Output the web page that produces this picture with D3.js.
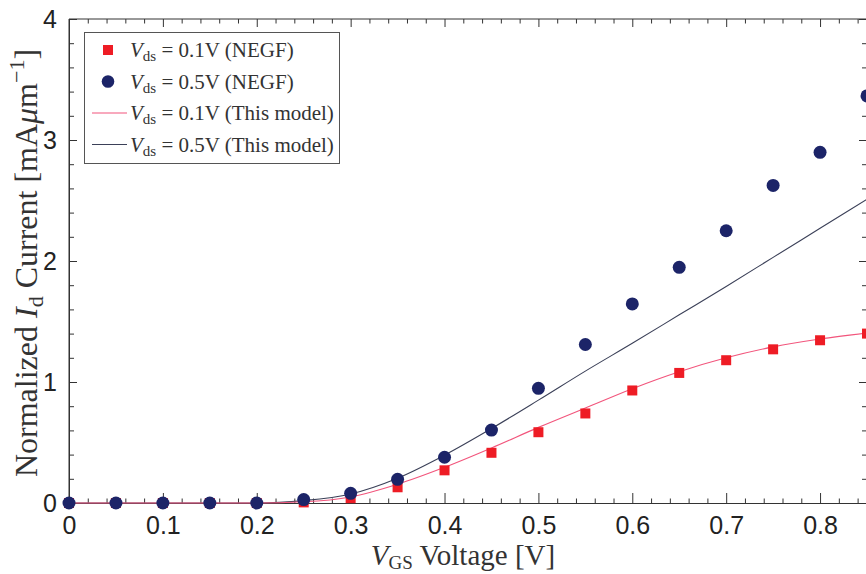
<!DOCTYPE html>
<html>
<head>
<meta charset="utf-8">
<script src="https://cdn.jsdelivr.net/npm/d3@7"></script>
<style>
  html, body { margin: 0; padding: 0; background: #fff; }
  svg { display: block; }
</style>
</head>
<body>
<svg id="chart" width="866" height="574"></svg>
<script>
// Gate voltage sweep (V)
const vgs = [0, 0.05, 0.1, 0.15, 0.2, 0.25, 0.3, 0.35, 0.4, 0.45, 0.5, 0.55, 0.6, 0.65, 0.7, 0.75, 0.8, 0.85];

// NEGF reference currents (mA/um)
const negfVds01 = [0, 0, 0, 0, 0, 0.005, 0.04, 0.13, 0.27, 0.415, 0.585, 0.74, 0.93, 1.075, 1.18, 1.27, 1.345, 1.4];
const negfVds05 = [0, 0, 0, 0, 0, 0.028, 0.08, 0.196, 0.378, 0.603, 0.948, 1.31, 1.645, 1.948, 2.25, 2.625, 2.898, 3.364];

// Compact model currents (mA/um)
const modelVds01 = [0, 0, 0, 0, 0, 0.01, 0.05, 0.155, 0.295, 0.455, 0.625, 0.785, 0.945, 1.085, 1.2, 1.29, 1.355, 1.405];
const modelVds05 = [0, 0, 0, 0, 0, 0.02, 0.075, 0.205, 0.395, 0.615, 0.85, 1.09, 1.32, 1.555, 1.79, 2.03, 2.27, 2.51];

// Axis ticks
const xTicks = [0, 0.1, 0.2, 0.3, 0.4, 0.5, 0.6, 0.7, 0.8];
const yTicks = [0, 1, 2, 3, 4];

const svg = d3.select("#chart");

const x = d3.scaleLinear().domain([0, 0.85]).range([69, 867]);
const y = d3.scaleLinear().domain([0, 4]).range([503, 19]);

const axisColor = "#333";
const redMarker = "#ee1c25";
const blueMarker = "#1c2468";
const redLine = "#f2557c";
const blueLine = "#3b4058";

const xMinor = d3.range(0, 0.8601, 0.02).filter(v => Math.abs(v * 10 - Math.round(v * 10)) > 1e-6);
const yMinor = d3.range(0, 4.001, 0.2).filter(v => Math.abs(v - Math.round(v)) > 1e-6);

// Frame
const frame = svg.append("g");
frame.append("line").attr("x1", x(0)).attr("x2", x(0)).attr("y1", y(0)).attr("y2", y(4)).attr("stroke", axisColor);
frame.append("line").attr("x1", x(0.85)).attr("x2", x(0.85)).attr("y1", y(0)).attr("y2", y(4)).attr("stroke", axisColor);
frame.append("line").attr("x1", x(0)).attr("x2", x(0.85)).attr("y1", y(4)).attr("y2", y(4)).attr("stroke", axisColor);

function styleTicks(g) {
  g.select(".domain").remove();
  g.selectAll(".tick line").attr("stroke", axisColor);
}

// Bottom axis (inward ticks) with labels
const bottomAxis = svg.append("g").attr("transform", `translate(0,${y(0)})`)
  .call(d3.axisBottom(x).tickValues(xTicks).tickSizeInner(-10).tickSizeOuter(0).tickPadding(13)
    .tickFormat(d => d === 0 ? "0" : d3.format(".1f")(d)));
bottomAxis.select(".domain").attr("stroke", axisColor);
bottomAxis.selectAll(".tick line").attr("stroke", axisColor);
bottomAxis.selectAll(".tick text").attr("font-family", "'Liberation Sans', Arial, sans-serif")
  .attr("font-size", 25).attr("fill", "#222").attr("dy", "0.71em");

svg.append("g").attr("transform", `translate(0,${y(0)})`)
  .call(d3.axisBottom(x).tickValues(xMinor).tickSizeInner(-4.5).tickSizeOuter(0).tickFormat(""))
  .call(styleTicks);

// Top axis (ticks pointing down)
svg.append("g").attr("transform", `translate(0,${y(4)})`)
  .call(d3.axisTop(x).tickValues(xTicks).tickSizeInner(-8).tickSizeOuter(0).tickFormat(""))
  .call(styleTicks);
svg.append("g").attr("transform", `translate(0,${y(4)})`)
  .call(d3.axisTop(x).tickValues(xMinor).tickSizeInner(-4.5).tickSizeOuter(0).tickFormat(""))
  .call(styleTicks);

// Left axis with labels
const leftAxis = svg.append("g").attr("transform", `translate(${x(0)},0)`)
  .call(d3.axisLeft(y).tickValues(yTicks).tickSizeInner(-8).tickSizeOuter(0).tickPadding(12).tickFormat(d3.format("d")));
leftAxis.select(".domain").attr("stroke", axisColor);
leftAxis.selectAll(".tick line").attr("stroke", axisColor);
leftAxis.selectAll(".tick text").attr("font-family", "'Liberation Sans', Arial, sans-serif")
  .attr("font-size", 25).attr("fill", "#222");
svg.append("g").attr("transform", `translate(${x(0)},0)`)
  .call(d3.axisLeft(y).tickValues(yMinor).tickSizeInner(-5).tickSizeOuter(0).tickFormat(""))
  .call(styleTicks);

// Right axis ticks
svg.append("g").attr("transform", `translate(${x(0.85)},0)`)
  .call(d3.axisRight(y).tickValues(yTicks).tickSizeInner(-8).tickSizeOuter(0).tickFormat(""))
  .call(styleTicks);
svg.append("g").attr("transform", `translate(${x(0.85)},0)`)
  .call(d3.axisRight(y).tickValues(yMinor).tickSizeInner(-5).tickSizeOuter(0).tickFormat(""))
  .call(styleTicks);

// Model curves
const curve = d3.line().x(d => x(d[0])).y(d => y(d[1])).curve(d3.curveMonotoneX);
svg.append("path").datum(vgs.map((v, i) => [v, modelVds05[i]]))
  .attr("d", curve).attr("fill", "none").attr("stroke", blueLine).attr("stroke-width", 1.1);
svg.append("path").datum(vgs.map((v, i) => [v, modelVds01[i]]))
  .attr("d", curve).attr("fill", "none").attr("stroke", redLine).attr("stroke-width", 1.1);

// NEGF markers
const sq = 10;
svg.append("g").selectAll("rect").data(vgs.map((v, i) => [v, negfVds01[i]])).join("rect")
  .attr("x", d => x(d[0]) - sq / 2).attr("y", d => y(d[1]) - sq / 2)
  .attr("width", sq).attr("height", sq).attr("fill", redMarker);
svg.append("g").selectAll("circle").data(vgs.map((v, i) => [v, negfVds05[i]])).join("circle")
  .attr("cx", d => x(d[0])).attr("cy", d => y(d[1])).attr("r", 6.5).attr("fill", blueMarker);

// Axis titles
const serif = "'Liberation Serif', 'Times New Roman', serif";
const xt = svg.append("text").attr("x", 463).attr("y", 565).attr("text-anchor", "middle")
  .attr("font-family", serif).attr("font-size", 29).attr("fill", "#333");
xt.append("tspan").attr("font-style", "italic").text("V");
xt.append("tspan").attr("font-size", 19).attr("dy", 4).text("GS");
xt.append("tspan").attr("dy", -4).text(" Voltage [V]");

const yt = svg.append("text").attr("transform", "translate(37,263) rotate(-90)").attr("text-anchor", "middle")
  .attr("font-family", serif).attr("font-size", 32).attr("fill", "#333");
yt.append("tspan").text("Normalized ");
yt.append("tspan").attr("font-style", "italic").text("I");
yt.append("tspan").attr("font-size", 22).attr("dy", 6).text("d");
yt.append("tspan").attr("dy", -6).text(" Current [mA");
yt.append("tspan").attr("font-style", "italic").text("μ");
yt.append("tspan").text("m");
yt.append("tspan").attr("font-size", 22).attr("dy", -13).text("−1");
yt.append("tspan").attr("dy", 13).text("]");

// Legend
const legendItems = [
  { kind: "square", label: "0.1V (NEGF)" },
  { kind: "circle", label: "0.5V (NEGF)" },
  { kind: "redline", label: "0.1V (This model)" },
  { kind: "blueline", label: "0.5V (This model)" }
];
const lg = svg.append("g");
lg.append("rect").attr("x", 84.5).attr("y", 32.5).attr("width", 255).attr("height", 131)
  .attr("fill", "#fff").attr("stroke", "#555").attr("stroke-width", 1);
legendItems.forEach((it, i) => {
  const cy = 50 + i * 31.5;
  if (it.kind === "square") {
    lg.append("rect").attr("x", 108 - 5).attr("y", cy - 5).attr("width", 10).attr("height", 10).attr("fill", redMarker);
  } else if (it.kind === "circle") {
    lg.append("circle").attr("cx", 108).attr("cy", cy).attr("r", 6.3).attr("fill", blueMarker);
  } else {
    lg.append("line").attr("x1", 92).attr("x2", 127).attr("y1", cy).attr("y2", cy)
      .attr("stroke", it.kind === "redline" ? redLine : blueLine).attr("stroke-width", 1.1);
  }
  const t = lg.append("text").attr("x", 130).attr("y", cy + 7).attr("font-family", serif)
    .attr("font-size", 21).attr("fill", "#333");
  t.append("tspan").attr("font-style", "italic").text("V");
  t.append("tspan").attr("font-size", 15).attr("dy", 4).text("ds");
  t.append("tspan").attr("dy", -4).text(" = " + it.label);
});
</script>
</body>
</html>
